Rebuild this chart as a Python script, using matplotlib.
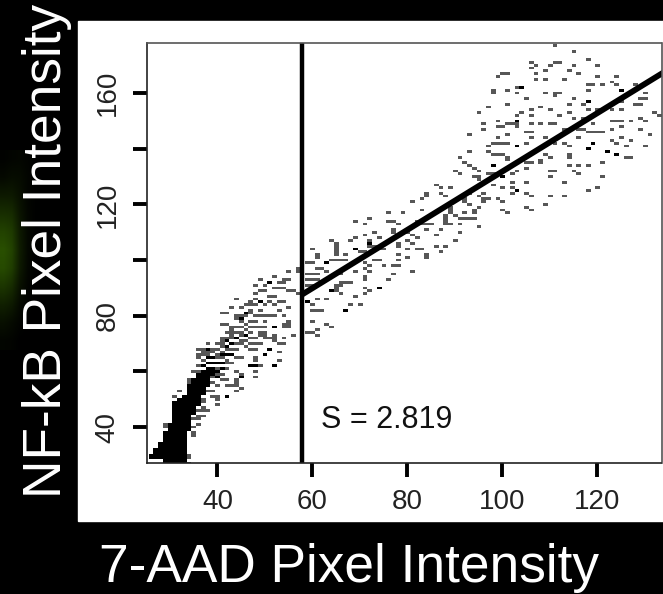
import matplotlib
matplotlib.use("Agg")
import matplotlib.pyplot as plt
import numpy as np

W, H = 663, 594

x_ticks = [40, 60, 80, 100, 120]
y_ticks = [40, 60, 80, 100, 120, 140, 160]
y_labels = ["40", "", "80", "", "120", "", "160"]

# separator and fitted line
cut_x = 57.7
fit_x = [57.7, 134]
fit_y = [87.5, 167.5]

# black core of the cloud: (y, first x, last x)
core_rows = [
    (27, 29, 33), (28, 29, 33), (29, 26, 33), (30, 26, 33), (31, 27, 33), (32, 27, 33),
    (33, 28, 33), (34, 28, 33), (35, 29, 33), (36, 29, 33), (37, 29, 33), (38, 29, 33),
    (39, 30, 34), (40, 30, 34), (41, 30, 34), (42, 31, 34), (43, 31, 34), (44, 31, 34),
    (45, 31, 35), (46, 31, 35), (47, 31, 35), (48, 31, 36), (49, 31, 36), (50, 32, 36),
    (51, 33, 36), (52, 34, 37), (53, 34, 37), (54, 34, 37), (55, 34, 38), (56, 35, 38),
    (57, 35, 38), (58, 36, 38), (59, 37, 39), (60, 37, 39), (61, 38, 39),
]

upper_cells = [
    (111, 177), (115, 175), (118, 172), (120, 170), (106, 171), (106, 169), (107, 170),
    (109, 168), (110, 170), (111, 171), (112, 171), (115, 170), (114, 168), (116, 167),
    (107, 167), (107, 165), (109, 165), (113, 165), (120, 166), (124, 166), (100, 167),
    (101, 167), (99, 166), (118, 163), (119, 163), (121, 163), (123, 164), (124, 163),
    (128, 163), (104, 162), (103, 162), (98, 161), (98, 160), (101, 161), (103, 160),
    (118, 161), (125, 161), (109, 160), (111, 160), (112, 160), (111, 159), (105, 158),
    (115, 158), (130, 160), (118, 157), (117, 156), (114, 156), (101, 156), (97, 155),
    (108, 155), (106, 154), (110, 154), (95, 153), (104, 153), (103, 152), (106, 152),
    (114, 153), (112, 152), (118, 154), (120, 154), (123, 154), (125, 154), (128, 156),
    (129, 156), (130, 158), (129, 158), (125, 157), (132, 153), (133, 152), (115, 151),
    (117, 151), (123, 150), (124, 150), (125, 150), (127, 150), (129, 151), (130, 150),
    (96, 149), (96, 147), (99, 150), (99, 148), (100, 148), (101, 149), (102, 149),
    (103, 150), (103, 149), (103, 148), (106, 149), (108, 149), (110, 149), (111, 149),
    (119, 149), (125, 148), (123, 147), (129, 147), (131, 145), (93, 145), (99, 144),
    (101, 145), (105, 146), (106, 146), (106, 144), (109, 144), (113, 147), (114, 147),
    (116, 147), (117, 147), (118, 146), (119, 146), (120, 146), (121, 146), (116, 144),
    (123, 143), (125, 144), (124, 142), (126, 141), (127, 143), (130, 141), (119, 142),
    (118, 140), (122, 139), (124, 138), (126, 137), (127, 137), (98, 142), (99, 142),
    (100, 142), (101, 142), (103, 141), (105, 142), (109, 141), (111, 142), (113, 142),
    (114, 141), (97, 141), (97, 139), (98, 138), (99, 138), (100, 138), (101, 137),
    (101, 136), (109, 138), (110, 137), (93, 139), (91, 137), (114, 138), (114, 137),
    (121, 135), (118, 134), (116, 134), (114, 134), (115, 132), (116, 131), (92, 135),
    (93, 134), (94, 133), (95, 132), (98, 134), (108, 136), (108, 135), (106, 135),
    (105, 135), (90, 132), (91, 131), (94, 130), (95, 130), (95, 129), (97, 131),
    (98, 131), (99, 131), (100, 130), (102, 131), (103, 132), (105, 133), (110, 132),
    (111, 132), (110, 130), (121, 130), (113, 128), (105, 128), (102, 128), (98, 127),
    (100, 126), (102, 126), (102, 124), (103, 125), (105, 124), (106, 123), (86, 127),
    (87, 126), (89, 126), (87, 124), (88, 123), (84, 124), (84, 123), (83, 122), (81, 121),
    (93, 124), (92, 122), (96, 124), (95, 123), (96, 122), (97, 122), (99, 122), (100, 121),
    (110, 123), (113, 123), (109, 120), (105, 119), (106, 118), (118, 125), (120, 126),
    (96, 121), (95, 119), (94, 118), (94, 117), (92, 117), (93, 120), (92, 121), (100, 118),
    (101, 117),
]

middle_cells = [
    (89, 119), (89, 118), (89, 117), (88, 116), (88, 115), (88, 114), (90, 116), (91, 115),
    (92, 115), (93, 115), (94, 115), (95, 112), (83, 118), (79, 117), (76, 117), (69, 114),
    (72, 115), (71, 113), (76, 114), (77, 114), (78, 113), (77, 111), (77, 110), (82, 114),
    (83, 113), (84, 113), (85, 113), (84, 111), (86, 109), (87, 111), (88, 113), (89, 113),
    (91, 113), (91, 110), (90, 107), (88, 105), (86, 105), (87, 103), (73, 110), (71, 109),
    (72, 107), (74, 108), (68, 107), (69, 108), (80, 110), (81, 109), (82, 108), (80, 107),
    (81, 106), (78, 106), (78, 105), (72, 106), (75, 104), (74, 104), (73, 105), (72, 105),
    (69, 104), (70, 103), (71, 103), (80, 104), (82, 104), (83, 104), (84, 102), (84, 101),
    (80, 101), (78, 102), (78, 100), (74, 100), (73, 100), (65, 106), (65, 105), (65, 104),
    (65, 103), (65, 102), (65, 100), (66, 100), (67, 100), (67, 102), (64, 107), (71, 99),
    (72, 98), (71, 97), (78, 98), (77, 98), (75, 98), (69, 96), (66, 95), (72, 96), (71, 94),
    (71, 93), (77, 95), (76, 93), (81, 96), (68, 92), (67, 92), (66, 91), (65, 90), (64, 89),
    (66, 88), (71, 90), (72, 89), (74, 90), (71, 88), (69, 87), (68, 84), (70, 84), (67, 82),
    (60, 104), (61, 102), (61, 101), (63, 99), (64, 100), (60, 99), (59, 99), (61, 97),
    (62, 97), (63, 96), (59, 95), (60, 95), (61, 95), (59, 93), (60, 93), (61, 93), (59, 91),
    (60, 91), (65, 91), (66, 92), (65, 89), (64, 89), (61, 86), (63, 86), (59, 85), (60, 84),
    (60, 82), (61, 82), (62, 82), (67, 82), (60, 78), (63, 77), (64, 76), (59, 74), (60, 74),
    (61, 75), (61, 73),
]

lower_cells = [
    (57, 96), (57, 97), (55, 96), (54, 93), (55, 93), (52, 94), (48, 91), (49, 93), (51, 92),
    (53, 92), (54, 92), (52, 90), (53, 90), (54, 90), (55, 89), (56, 89), (57, 88), (50, 91),
    (49, 89), (48, 88), (50, 89), (51, 87), (52, 87), (44, 86), (49, 85), (48, 86), (47, 85),
    (51, 85), (53, 85), (54, 85), (46, 84), (48, 84), (47, 84), (50, 84), (52, 84), (43, 83),
    (45, 83), (47, 82), (49, 82), (53, 82), (55, 83), (44, 80), (45, 80), (46, 81), (47, 81),
    (41, 81), (42, 81), (45, 78), (44, 79), (46, 80), (48, 80), (49, 80), (50, 80), (51, 80),
    (52, 80), (54, 80), (55, 77), (54, 77), (55, 78), (48, 78), (50, 78), (41, 77), (42, 77),
    (45, 76), (43, 76), (47, 76), (48, 76), (49, 76), (50, 76), (50, 74), (52, 76), (54, 76),
    (43, 74), (43, 72), (42, 72), (41, 72), (47, 74), (47, 72), (48, 72), (50, 72), (51, 72),
    (52, 72), (54, 72), (56, 73), (41, 71), (42, 71), (45, 71), (45, 70), (46, 69), (48, 70),
    (49, 70), (51, 68), (53, 70), (54, 70), (43, 75), (42, 74), (49, 74), (55, 76), (52, 73),
    (53, 67), (53, 64), (52, 62), (50, 66), (48, 65), (48, 62), (49, 62), (48, 60), (48, 58),
    (45, 58), (44, 57), (45, 59), (44, 55), (43, 55), (42, 55), (42, 51), (40, 51), (40, 48),
    (38, 70), (36, 68), (38, 68), (32, 53), (31, 51), (32, 49), (31, 48), (31, 47), (29, 41),
    (29, 40), (39, 51), (42, 51), (40, 50), (37, 47), (37, 46), (38, 46), (36, 44), (37, 44),
    (36, 43), (35, 40), (36, 41), (38, 53), (39, 53), (44, 56), (45, 54), (44, 53), (40, 58),
    (41, 57), (42, 57), (42, 61), (44, 60), (41, 59), (48, 64), (47, 62), (52, 62), (50, 66),
    (51, 68), (35, 60), (34, 57), (34, 56), (34, 55), (36, 62), (37, 62), (38, 61), (37, 64),
    (37, 66), (39, 68), (40, 68), (41, 66), (42, 66), (43, 66), (41, 69), (42, 69), (42, 71),
    (43, 73), (44, 72), (46, 73), (46, 71), (47, 70), (47, 68), (48, 68), (50, 73), (49, 73),
    (52, 71), (44, 65), (45, 65), (39, 61), (40, 63), (41, 63), (39, 65), (38, 65), (34, 27),
    (34, 29), (34, 30), (40, 60), (41, 61), (38, 63), (39, 63), (42, 63), (43, 63), (40, 65),
    (41, 65), (42, 64), (43, 68), (44, 68), (44, 70), (43, 70), (39, 67), (40, 66), (38, 66),
    (36, 59), (36, 58), (35, 57), (39, 58), (39, 59), (40, 59), (36, 60), (37, 60), (40, 61),
    (36, 65), (36, 66), (37, 67), (37, 68), (38, 67), (40, 70), (41, 70), (41, 67), (42, 68),
    (44, 74), (45, 74), (45, 73), (46, 75), (44, 76), (46, 77), (47, 78), (39, 56), (40, 55),
    (34, 52), (33, 49), (37, 50), (37, 49), (35, 38), (35, 37), (34, 43), (35, 43), (36, 46),
]

# cells with more than one count, drawn black
dark_cells = [
    (118, 157), (103, 150), (119, 142), (118, 140), (122, 139), (124, 138), (98, 134),
    (125, 161), (104, 162), (103, 141), (100, 130), (103, 125), (72, 106), (69, 104),
    (74, 90), (59, 85), (63, 99), (51, 92), (49, 85), (52, 76), (47, 62), (48, 62), (45, 58),
    (46, 73), (45, 79), (45, 79), (46, 81), (38, 68), (39, 65), (40, 63), (41, 63), (42, 66),
    (41, 66), (38, 65), (39, 63), (42, 69), (43, 70), (44, 72), (43, 66), (40, 60), (41, 61),
    (39, 61), (38, 63), (37, 62), (40, 58), (39, 59), (36, 59),
]

# green smear behind the y label, rows run top to bottom, columns left to right
glow_levels = [
    [0.02, 0.04, 0.05, 0.03, 0.00],
    [0.07, 0.10, 0.09, 0.04, 0.01],
    [0.20, 0.20, 0.12, 0.04, 0.01],
    [0.36, 0.34, 0.16, 0.05, 0.01],
    [0.52, 0.46, 0.20, 0.06, 0.01],
    [0.62, 0.52, 0.22, 0.06, 0.01],
    [0.58, 0.48, 0.20, 0.05, 0.00],
    [0.42, 0.34, 0.13, 0.03, 0.00],
    [0.25, 0.20, 0.07, 0.02, 0.00],
    [0.12, 0.08, 0.03, 0.00, 0.00],
    [0.04, 0.03, 0.00, 0.00, 0.00],
]

plt.rcParams["font.family"] = ["Liberation Sans", "DejaVu Sans"]

fig = plt.figure(figsize=(W / 100, H / 100), dpi=100, facecolor="black")

bg = fig.add_axes([0, 0, 1, 1])
bg.axis("off")
glow = np.array(glow_levels)[..., None] * np.array([0.26, 0.5, 0.0])
bg.imshow(glow, extent=(0, 40, 350, 150), interpolation="bilinear", aspect="auto", zorder=1)
bg.set_xlim(0, W)
bg.set_ylim(H, 0)
bg.add_patch(plt.Rectangle((78, 21), W - 78, 500, color="white", zorder=2))

ax = fig.add_axes([147 / W, 1 - 463 / H, (661.5 - 147) / W, 420 / H])

all_cells = upper_cells + middle_cells + lower_cells + dark_cells
for row_y, first_x, last_x in core_rows:
    all_cells = all_cells + [(cx, row_y) for cx in range(first_x, last_x + 1)] * 3
cell_x, cell_y = zip(*all_cells)

x_edges = np.arange(24.5, 135.5)
y_edges = np.arange(26.5, 181.5)
counts, _, _ = np.histogram2d(cell_x, cell_y, bins=[x_edges, y_edges])
shade = np.select([counts == 0, counts == 1], [1.0, 0.34], default=0.0)
ax.imshow(shade.T, origin="lower", cmap="gray", vmin=0, vmax=1, aspect="auto",
          extent=(x_edges[0], x_edges[-1], y_edges[0], y_edges[-1]), interpolation="nearest")

ax.axvline(cut_x, color="black", lw=3.2)
ax.plot(fit_x, fit_y, color="black", lw=4.2, solid_capstyle="butt")
ax.text(61.8, 42.5, "S = 2.819", fontsize=22, color="#111111", ha="left", va="center")

ax.set_xlim(25.16, 133.5)
ax.set_ylim(27.1, 178)
ax.set_xticks(x_ticks)
ax.set_yticks(y_ticks)
ax.set_yticklabels(y_labels, rotation=90, va="center")
ax.tick_params(axis="both", length=10, width=2.8, labelsize=20, labelcolor="#222222", pad=9)
for side in ax.spines.values():
    side.set_linewidth(1.2)
    side.set_color("#222222")
ax.spines["top"].set_color("#555555")
ax.spines["right"].set_color("#555555")

fig.text(349 / W, 1 - 568 / H, "7-AAD Pixel Intensity", color="white", fontsize=38.3,
         ha="center", va="center")
fig.text(47 / W, 1 - 251 / H, "NF-kB Pixel Intensity", color="white", fontsize=38.3,
         rotation=90, ha="center", va="center")

fig.savefig("out.png", dpi=100, facecolor="black")
plt.close(fig)
